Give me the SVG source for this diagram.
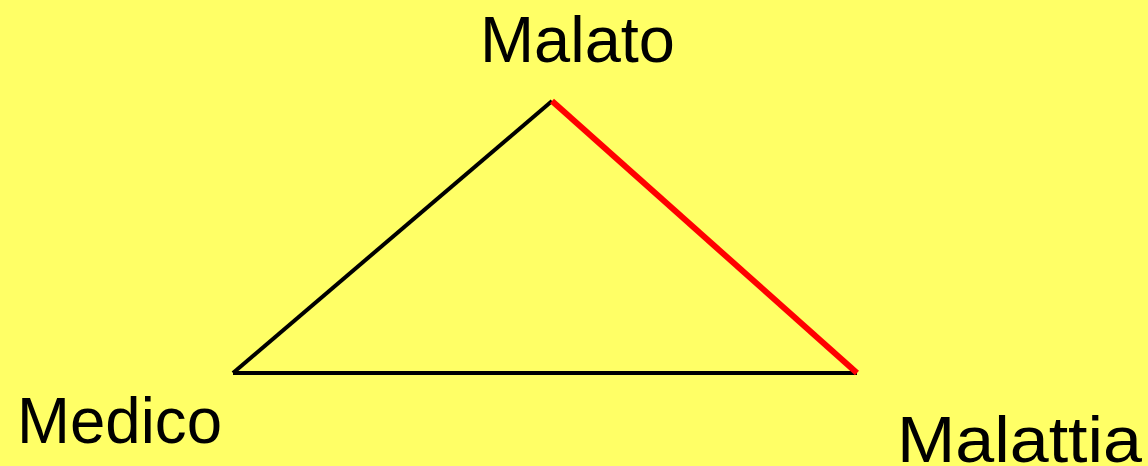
<svg xmlns="http://www.w3.org/2000/svg" width="1148" height="466" viewBox="0 0 1148 466">
<style>
.lbl{font-family:"Liberation Sans","DejaVu Sans",sans-serif;font-size:64px;fill:#000}
.edge{fill:none;stroke-linecap:butt}
</style>
<rect x="0" y="0" width="1148" height="466" fill="#FFFF66"/>
<g id="connectors">
<line class="edge" x1="233" y1="373" x2="552" y2="101" stroke="#000" stroke-width="4"/>
<line class="edge" x1="233" y1="373" x2="857" y2="373" stroke="#000" stroke-width="4"/>
<line class="edge" x1="552" y1="101" x2="857" y2="373" stroke="#FF0000" stroke-width="6"/>
</g>
<g id="malato"><text class="lbl" x="480" y="62" textLength="195" lengthAdjust="spacingAndGlyphs">Malato</text></g>
<g id="medico"><text class="lbl" x="17" y="443" textLength="205" lengthAdjust="spacingAndGlyphs">Medico</text></g>
<g id="malattia"><text class="lbl" x="897" y="462" textLength="245" lengthAdjust="spacingAndGlyphs">Malattia</text></g>
</svg>
